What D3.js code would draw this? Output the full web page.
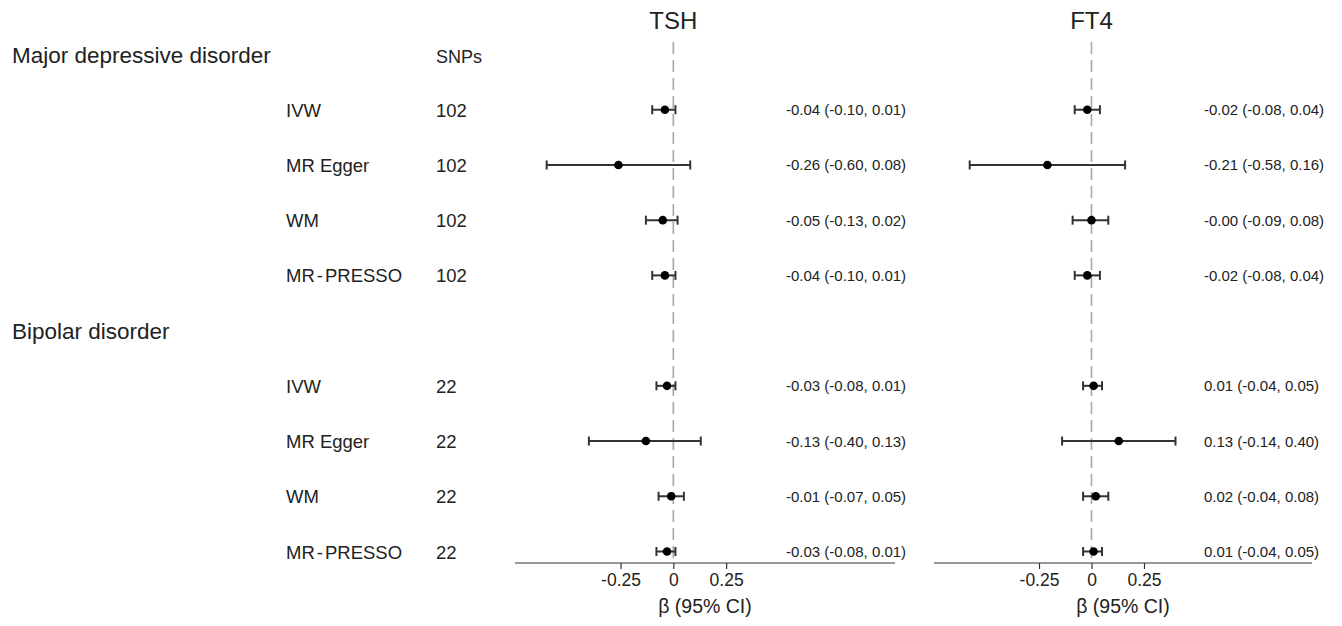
<!DOCTYPE html>
<html>
<head>
<meta charset="utf-8">
<script src="https://cdn.jsdelivr.net/npm/d3@7"></script>
<style>
  html, body { margin: 0; padding: 0; background: #fff; }
  svg { display: block; font-family: "Liberation Sans", Arial, sans-serif; }
</style>
</head>
<body>
<svg id="chart" width="1342" height="626"></svg>
<script>
// ---------------- data ----------------
const groups = ["Major depressive disorder", "Bipolar disorder"];
const methods = ["IVW", "MR Egger", "WM", "MR-PRESSO"];
const snpCounts = [102, 22];
const panels = ["TSH", "FT4"];

const tshEst = [-0.04, -0.26, -0.05, -0.04, -0.03, -0.13, -0.01, -0.03];
const tshLow = [-0.10, -0.60, -0.13, -0.10, -0.08, -0.40, -0.07, -0.08];
const tshHigh = [0.01, 0.08, 0.02, 0.01, 0.01, 0.13, 0.05, 0.01];

const ft4Est = [-0.02, -0.21, -0.00, -0.02, 0.01, 0.13, 0.02, 0.01];
const ft4Low = [-0.08, -0.58, -0.09, -0.08, -0.04, -0.14, -0.04, -0.04];
const ft4High = [0.04, 0.16, 0.08, 0.04, 0.05, 0.40, 0.08, 0.05];

const tickValues = [-0.25, 0, 0.25];
const tickLabels = ["-0.25", "0", "0.25"];
const axisTitle = "β (95% CI)";
const snpHeader = "SNPs";

// ---------------- layout ----------------
const svg = d3.select("#chart");
const ink = "#222";
const lineInk = "#333";

const y = d3.scaleLinear().domain([0, 9]).range([54.5, 551.5]);
const axisY = 563;
const xDomain = [-0.75, 1.05];
const xScales = [
  d3.scaleLinear().domain(xDomain).range([515, 895]),
  d3.scaleLinear().domain(xDomain).range([934, 1312])
];
const textX = [786, 1204];
const seriesData = [
  { est: tshEst, lo: tshLow, hi: tshHigh },
  { est: ft4Est, lo: ft4Low, hi: ft4High }
];

function fmt(v) {
  const neg = v < 0 || Object.is(v, -0);
  return (neg ? "-" : "") + Math.abs(v).toFixed(2);
}

// rows: group header, then 4 methods, per group
const rows = [];
groups.forEach((g, gi) => {
  rows.push({ type: "group", label: g, row: gi * 5, gi });
  methods.forEach((m, mi) => {
    rows.push({ type: "method", label: m, row: gi * 5 + 1 + mi, gi, idx: gi * 4 + mi });
  });
});

// left labels
svg.selectAll("text.group").data(rows.filter(r => r.type === "group"))
  .join("text").attr("class", "group")
  .attr("x", 12).attr("y", d => y(d.row) + 8)
  .attr("font-size", 22.5).attr("fill", ink)
  .text(d => d.label);

svg.append("text").attr("x", 436).attr("y", y(0) + 8)
  .attr("font-size", 18).attr("fill", ink).text(snpHeader);

const methodRows = rows.filter(r => r.type === "method");
svg.selectAll("text.method").data(methodRows)
  .join("text").attr("class", "method")
  .attr("x", 286).attr("y", d => y(d.row) + 7)
  .attr("font-size", 18.5).attr("fill", ink)
  .each(function (d) {
    const t = d3.select(this);
    const parts = d.label.split("-");
    if (parts.length === 1) { t.text(d.label); return; }
    t.append("tspan").text(parts[0]);
    t.append("tspan").attr("dx", 2).text("-");
    t.append("tspan").attr("dx", 2).text(parts[1]);
  });

svg.selectAll("text.snp").data(methodRows)
  .join("text").attr("class", "snp")
  .attr("x", 436).attr("y", d => y(d.row) + 7)
  .attr("font-size", 18.5).attr("fill", ink)
  .text(d => snpCounts[d.gi]);

// panels
panels.forEach((p, pi) => {
  const x = xScales[pi];
  const s = seriesData[pi];
  const g = svg.append("g");

  // title
  g.append("text").attr("x", x(0)).attr("y", 29)
    .attr("text-anchor", "middle").attr("font-size", 24).attr("fill", ink)
    .text(p);

  // zero dashed line
  g.append("line")
    .attr("x1", x(0)).attr("x2", x(0)).attr("y1", 42).attr("y2", axisY)
    .attr("stroke", "#a6a6a6").attr("stroke-width", 1.6)
    .attr("stroke-dasharray", "12,6");

  // axis
  const axis = d3.axisBottom(x).tickValues(tickValues)
    .tickFormat((d, i) => tickLabels[i]).tickSize(6).tickPadding(5);
  const ag = g.append("g").attr("transform", `translate(0,${axisY})`).call(axis);
  ag.select(".domain").attr("d", `M${x.range()[0]},0H${x.range()[1]}`)
    .attr("stroke", lineInk).attr("stroke-width", 1.2);
  ag.selectAll(".tick line").attr("stroke", lineInk).attr("stroke-width", 1.2);
  ag.selectAll(".tick text").attr("font-size", 17.5).attr("fill", ink)
    .attr("font-family", "Liberation Sans, Arial, sans-serif");

  g.append("text").attr("x", x(0.15)).attr("y", 613)
    .attr("text-anchor", "middle").attr("font-size", 19.5).attr("fill", ink)
    .text(axisTitle);

  // error bars
  const bars = g.selectAll("g.bar").data(methodRows).join("g").attr("class", "bar");
  bars.append("line")
    .attr("x1", d => x(s.lo[d.idx])).attr("x2", d => x(s.hi[d.idx]))
    .attr("y1", d => y(d.row)).attr("y2", d => y(d.row))
    .attr("stroke", lineInk).attr("stroke-width", 2);
  bars.append("line")
    .attr("x1", d => x(s.lo[d.idx])).attr("x2", d => x(s.lo[d.idx]))
    .attr("y1", d => y(d.row) - 4.5).attr("y2", d => y(d.row) + 4.5)
    .attr("stroke", lineInk).attr("stroke-width", 2);
  bars.append("line")
    .attr("x1", d => x(s.hi[d.idx])).attr("x2", d => x(s.hi[d.idx]))
    .attr("y1", d => y(d.row) - 4.5).attr("y2", d => y(d.row) + 4.5)
    .attr("stroke", lineInk).attr("stroke-width", 2);
  bars.append("circle")
    .attr("cx", d => x(s.est[d.idx])).attr("cy", d => y(d.row))
    .attr("r", 4.3).attr("fill", "#000");

  // estimate text
  g.selectAll("text.est").data(methodRows).join("text").attr("class", "est")
    .attr("x", textX[pi]).attr("y", d => y(d.row) + 5.5)
    .attr("font-size", 15).attr("fill", ink)
    .text(d => `${fmt(s.est[d.idx])} (${fmt(s.lo[d.idx])}, ${fmt(s.hi[d.idx])})`);
});
</script>
</body>
</html>
